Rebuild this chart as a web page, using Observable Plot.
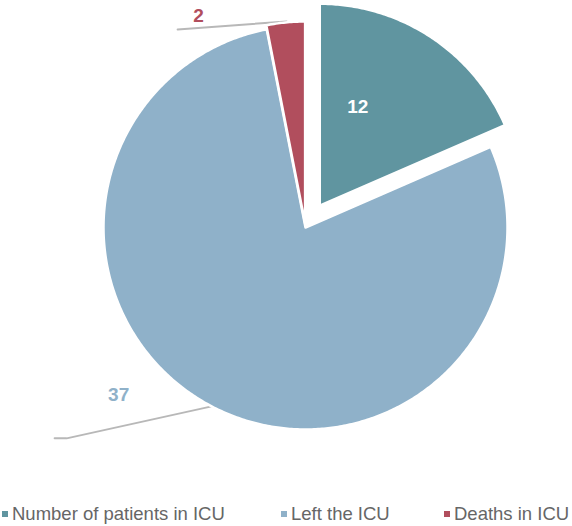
<!DOCTYPE html>
<html>
<head>
<meta charset="utf-8">
<script src="https://cdn.jsdelivr.net/npm/d3@7"></script>
<script src="https://cdn.jsdelivr.net/npm/@observablehq/plot@0.6"></script>
<style>
  html, body { margin: 0; padding: 0; background: #fff; }
  #wrap { position: relative; width: 572px; height: 526px; font-family: "Liberation Sans", Arial, sans-serif; }
  #legend { position: absolute; left: 0; top: 503.5px; width: 572px; height: 22px; }
  .item { position: absolute; top: 0; font-size: 18.5px; line-height: 20px; color: #666; white-space: nowrap; }
  .sw { display: inline-block; width: 6px; height: 6px; margin-right: 4px; vertical-align: 3px; }
</style>
</head>
<body>
<div id="wrap"><div id="chart"></div><div id="legend"></div></div>
<script>
// ---- data ----
const categories = ["Number of patients in ICU", "Left the ICU", "Deaths in ICU"];
const labelValues = [12, 37, 2];          // numbers printed on the chart
const sliceSizes = [12, 51, 2];
const colors = ["#6095a0", "#8fb1c9", "#b14e5d"];
const labelColors = ["#ffffff", "#8fb1c9", "#b14e5d"];

// ---- layout ----
const W = 572, H = 496;
const cx = 305, cy = 227, R = 202;
const explode = [26, 0, 4];

const pie = d3.pie().sort(null).value(d => d)(sliceSizes);
const pts = [];
const slices = pie.map((p, i) => {
  const mid = (p.startAngle + p.endAngle) / 2;
  const ox = explode[i] * Math.sin(mid), oy = -explode[i] * Math.cos(mid);
  const ccx = cx + ox, ccy = cy + oy;
  pts.push({cat: categories[i], x: ccx, y: ccy});
  const n = Math.max(4, Math.ceil((p.endAngle - p.startAngle) / 0.01));
  for (let k = 0; k <= n; k++) {
    const a = p.startAngle + (p.endAngle - p.startAngle) * k / n;
    pts.push({cat: categories[i], x: ccx + R * Math.sin(a), y: ccy - R * Math.cos(a)});
  }
  return {i, mid, ccx, ccy};
});

// label placement relative to slice geometry
const labels = [];
const leaders = [];
slices.forEach(s => {
  const ex = s.ccx + R * Math.sin(s.mid), ey = s.ccy - R * Math.cos(s.mid);
  if (s.i === 0) {
    labels.push({x: s.ccx + 38, y: s.ccy - 99, text: String(labelValues[0]), c: labelColors[0]});
  } else if (s.i === 1) {
    leaders.push({g: 1, x: ex, y: ey}, {g: 1, x: ex - 145, y: ey + 32}, {g: 1, x: ex - 157, y: ey + 32});
    labels.push({x: ex - 93, y: ey - 11, text: String(labelValues[1]), c: labelColors[1]});
  } else {
    leaders.push({g: 2, x: ex + 1, y: ey - 1}, {g: 2, x: ex - 108, y: ey + 7});
    labels.push({x: ex - 87, y: ey - 7, text: String(labelValues[2]), c: labelColors[2]});
  }
});

const chart = Plot.plot({
  width: W, height: H, margin: 0,
  style: {background: "transparent", overflow: "visible"},
  x: {domain: [0, W], range: [0, W], axis: null},
  y: {domain: [0, H], range: [0, H], axis: null},
  color: {domain: categories, range: colors},
  marks: [
    Plot.line(leaders, {x: "x", y: "y", z: "g", stroke: "#b8b8b8", strokeWidth: 2}),
    Plot.line(pts, {x: "x", y: "y", z: "cat", fill: "cat", stroke: "white", strokeWidth: 2.5, curve: "linear-closed"}),
    Plot.text(labels, {x: "x", y: "y", text: "text", fill: d => d.c, fontSize: 19, fontWeight: "bold", fontFamily: "Liberation Sans, Arial, sans-serif", textAnchor: "middle"})
  ]
});
document.getElementById("chart").append(chart);

// legend
const legendX = [2, 281, 444];
const lg = document.getElementById("legend");
categories.forEach((c, i) => {
  const d = document.createElement("div");
  d.className = "item";
  d.style.left = legendX[i] + "px";
  const sw = document.createElement("span");
  sw.className = "sw";
  sw.style.background = colors[i];
  d.append(sw, document.createTextNode(c));
  lg.append(d);
});
</script>
</body>
</html>
